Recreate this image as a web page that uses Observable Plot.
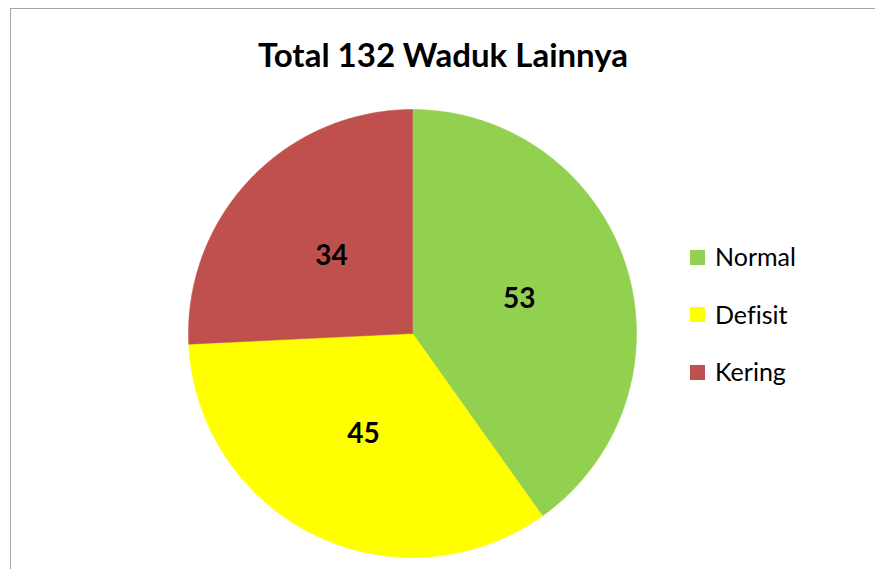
<!DOCTYPE html>
<html>
<head>
<meta charset="utf-8">
<script src="https://cdn.jsdelivr.net/npm/d3@7"></script>
<script src="https://cdn.jsdelivr.net/npm/@observablehq/plot@0.6"></script>
<style>
  html, body { margin: 0; padding: 0; background: #fff; overflow: hidden; }
  body { width: 875px; height: 569px; position: relative; font-family: Lato, "Open Sans", sans-serif; font-variant-ligatures: none; }
  #frame { position: absolute; left: 10px; top: 8px; width: 900px; height: 600px; border: 1.5px solid #a6a6a6; box-sizing: border-box; }
  #title { position: absolute; left: 0; top: 0; width: 886px; height: 100px; text-align: center; font-weight: bold; font-size: 33px; line-height: 108px; color: #000; }
  #chart { position: absolute; left: 0; top: 100px; }
  #legend { position: absolute; left: 690px; top: 242px; }
  .item { display: flex; align-items: center; height: 28px; margin-bottom: 29.5px; font-size: 25px; color: #000; }
  .sw { width: 15px; height: 15px; margin-right: 10px; margin-top: 2px; }
</style>
</head>
<body>
<div id="frame"></div>
<div id="title"></div>
<div id="chart"></div>
<div id="legend"></div>
<script>
const titleText = "Total 132 Waduk Lainnya";
const categories = ["Normal", "Defisit", "Kering"];
const values = [53, 45, 34];
const colors = ["#92d050", "#ffff00", "#c0504d"];

document.getElementById("title").textContent = titleText;

const data = categories.map((c, i) => ({category: c, value: values[i], color: colors[i]}));
const arcs = d3.pie().sort(null).value(d => d.value)(data);

// polygon points in unit coordinates (angle 0 at 12 o'clock, clockwise)
const pts = [];
arcs.forEach(a => {
  const n = Math.max(2, Math.ceil((a.endAngle - a.startAngle) / 0.01));
  pts.push({category: a.data.category, x: 0, y: 0});
  for (let k = 0; k <= n; k++) {
    const t = a.startAngle + (a.endAngle - a.startAngle) * k / n;
    pts.push({category: a.data.category, x: Math.sin(t), y: -Math.cos(t)});
  }
  pts.push({category: a.data.category, x: 0, y: 0});
});
const labels = arcs.map(a => {
  const m = (a.startAngle + a.endAngle) / 2;
  return {label: String(a.data.value), x: 0.5 * Math.sin(m), y: -0.5 * Math.cos(m)};
});

const plot = Plot.plot({
  width: 875,
  height: 469,
  margin: 0,
  x: {type: "linear", domain: [-1, 1], range: [188, 636], axis: null},
  y: {type: "linear", domain: [-1, 1], range: [9, 457], axis: null},
  style: {background: "transparent", overflow: "visible"},
  marks: [
    ...categories.map((c, i) => Plot.line(pts.filter(p => p.category === c), {
      x: "x", y: "y", fill: colors[i], stroke: colors[i], strokeWidth: 0.5, curve: "linear"
    })),
    Plot.text(labels, {x: "x", y: "y", text: "label", fontSize: 28, fontWeight: "bold", fill: "#000", fontFamily: "Lato, 'Open Sans', sans-serif"})
  ]
});
document.getElementById("chart").appendChild(plot);

const legend = document.getElementById("legend");
categories.forEach((c, i) => {
  const item = document.createElement("div");
  item.className = "item";
  const sw = document.createElement("div");
  sw.className = "sw";
  sw.style.background = colors[i];
  const tx = document.createElement("span");
  tx.textContent = c;
  item.appendChild(sw);
  item.appendChild(tx);
  legend.appendChild(item);
});
</script>
</body>
</html>
